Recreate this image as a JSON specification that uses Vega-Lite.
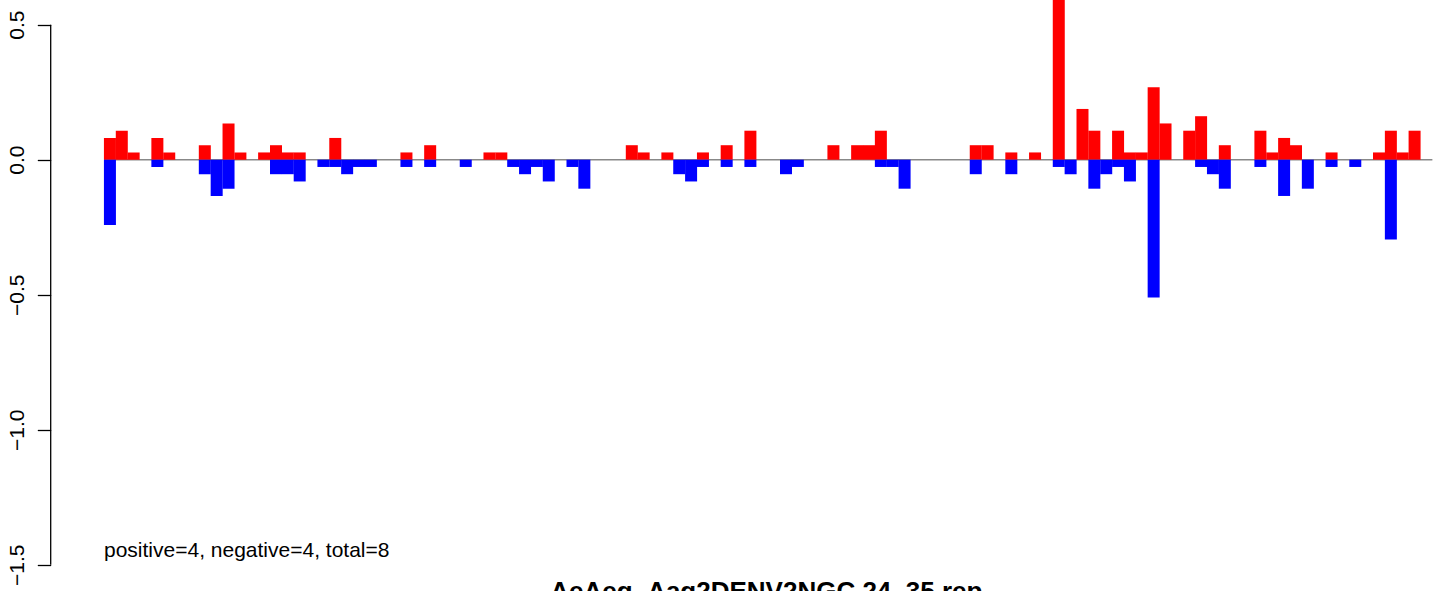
{
  "$schema": "https://vega.github.io/schema/vega-lite/v6.json",
  "width": 1393.3,
  "height": 564.7,
  "autosize": "none",
  "padding": {"left": 50.7, "top": 0, "right": 0, "bottom": 26.3},
  "background": "white",
  "config": {"view": {"stroke": null}},
  "title": {
    "text": "AeAeg_Aag2DENV2NGC.24_35.rep",
    "orient": "bottom",
    "anchor": "middle",
    "frame": "group",
    "dx": 19,
    "offset": -6,
    "font": "Liberation Sans",
    "fontSize": 26,
    "fontWeight": "bold",
    "color": "black"
  },
  "data": {
    "values": [
      {"i":1,"pos":0.0806,"neg":-0.2417},{"i":2,"pos":0.1074,"neg":0},{"i":3,"pos":0.0269,"neg":0},{"i":4,"pos":0,"neg":0},
      {"i":5,"pos":0.0806,"neg":-0.0269},{"i":6,"pos":0.0269,"neg":0},{"i":7,"pos":0,"neg":0},{"i":8,"pos":0,"neg":0},
      {"i":9,"pos":0.0537,"neg":-0.0537},{"i":10,"pos":0,"neg":-0.1343},{"i":11,"pos":0.1343,"neg":-0.1074},{"i":12,"pos":0.0269,"neg":0},
      {"i":13,"pos":0,"neg":0},{"i":14,"pos":0.0269,"neg":0},{"i":15,"pos":0.0537,"neg":-0.0537},{"i":16,"pos":0.0269,"neg":-0.0537},
      {"i":17,"pos":0.0269,"neg":-0.0806},{"i":18,"pos":0,"neg":0},{"i":19,"pos":0,"neg":-0.0269},{"i":20,"pos":0.0806,"neg":-0.0269},
      {"i":21,"pos":0,"neg":-0.0537},{"i":22,"pos":0,"neg":-0.0269},{"i":23,"pos":0,"neg":-0.0269},{"i":24,"pos":0,"neg":0},
      {"i":25,"pos":0,"neg":0},{"i":26,"pos":0.0269,"neg":-0.0269},{"i":27,"pos":0,"neg":0},{"i":28,"pos":0.0537,"neg":-0.0269},
      {"i":29,"pos":0,"neg":0},{"i":30,"pos":0,"neg":0},{"i":31,"pos":0,"neg":-0.0269},{"i":32,"pos":0,"neg":0},
      {"i":33,"pos":0.0269,"neg":0},{"i":34,"pos":0.0269,"neg":0},{"i":35,"pos":0,"neg":-0.0269},{"i":36,"pos":0,"neg":-0.0537},
      {"i":37,"pos":0,"neg":-0.0269},{"i":38,"pos":0,"neg":-0.0806},{"i":39,"pos":0,"neg":0},{"i":40,"pos":0,"neg":-0.0269},
      {"i":41,"pos":0,"neg":-0.1074},{"i":42,"pos":0,"neg":0},{"i":43,"pos":0,"neg":0},{"i":44,"pos":0,"neg":0},
      {"i":45,"pos":0.0537,"neg":0},{"i":46,"pos":0.0269,"neg":0},{"i":47,"pos":0,"neg":0},{"i":48,"pos":0.0269,"neg":0},
      {"i":49,"pos":0,"neg":-0.0537},{"i":50,"pos":0,"neg":-0.0806},{"i":51,"pos":0.0269,"neg":-0.0269},{"i":52,"pos":0,"neg":0},
      {"i":53,"pos":0.0537,"neg":-0.0269},{"i":54,"pos":0,"neg":0},{"i":55,"pos":0.1074,"neg":-0.0269},{"i":56,"pos":0,"neg":0},
      {"i":57,"pos":0,"neg":0},{"i":58,"pos":0,"neg":-0.0537},{"i":59,"pos":0,"neg":-0.0269},{"i":60,"pos":0,"neg":0},
      {"i":61,"pos":0,"neg":0},{"i":62,"pos":0.0537,"neg":0},{"i":63,"pos":0,"neg":0},{"i":64,"pos":0.0537,"neg":0},
      {"i":65,"pos":0.0537,"neg":0},{"i":66,"pos":0.1074,"neg":-0.0269},{"i":67,"pos":0,"neg":-0.0269},{"i":68,"pos":0,"neg":-0.1074},
      {"i":69,"pos":0,"neg":0},{"i":70,"pos":0,"neg":0},{"i":71,"pos":0,"neg":0},{"i":72,"pos":0,"neg":0},
      {"i":73,"pos":0,"neg":0},{"i":74,"pos":0.0537,"neg":-0.0537},{"i":75,"pos":0.0537,"neg":0},{"i":76,"pos":0,"neg":0},
      {"i":77,"pos":0.0269,"neg":-0.0537},{"i":78,"pos":0,"neg":0},{"i":79,"pos":0.0269,"neg":0},{"i":80,"pos":0,"neg":0},
      {"i":81,"pos":0.8,"neg":-0.0269},{"i":82,"pos":0,"neg":-0.0537},{"i":83,"pos":0.188,"neg":0},{"i":84,"pos":0.1074,"neg":-0.1074},
      {"i":85,"pos":0,"neg":-0.0537},{"i":86,"pos":0.1074,"neg":-0.0269},{"i":87,"pos":0.0269,"neg":-0.0806},{"i":88,"pos":0.0269,"neg":0},
      {"i":89,"pos":0.2685,"neg":-0.5102},{"i":90,"pos":0.1343,"neg":0},{"i":91,"pos":0,"neg":0},{"i":92,"pos":0.1074,"neg":0},
      {"i":93,"pos":0.1611,"neg":-0.0269},{"i":94,"pos":0,"neg":-0.0537},{"i":95,"pos":0.0537,"neg":-0.1074},{"i":96,"pos":0,"neg":0},
      {"i":97,"pos":0,"neg":0},{"i":98,"pos":0.1074,"neg":-0.0269},{"i":99,"pos":0.0269,"neg":0},{"i":100,"pos":0.0806,"neg":-0.1343},
      {"i":101,"pos":0.0537,"neg":0},{"i":102,"pos":0,"neg":-0.1074},{"i":103,"pos":0,"neg":0},{"i":104,"pos":0.0269,"neg":-0.0269},
      {"i":105,"pos":0,"neg":0},{"i":106,"pos":0,"neg":-0.0269},{"i":107,"pos":0,"neg":0},{"i":108,"pos":0.0269,"neg":0},
      {"i":109,"pos":0.1074,"neg":-0.2954},{"i":110,"pos":0.0269,"neg":0},{"i":111,"pos":0.1074,"neg":0},{"i":112,"pos":0,"neg":0}
    ]
  },
  "layer": [
    {
      "data": {"values": [{}]},
      "mark": {"type": "rule", "color": "#888888", "strokeWidth": 1.5},
      "encoding": {
        "x": {"datum": 0.5, "type": "quantitative", "scale": {"domain": [-3.994, 113.48], "nice": false, "zero": false, "padding": 0}, "axis": null},
        "x2": {"datum": 112.5},
        "y": {
          "datum": 0,
          "type": "quantitative",
          "scale": {"domain": [-1.5, 0.5915], "nice": false, "zero": false, "padding": 0},
          "axis": {
            "orient": "left",
            "values": [-1.5, -1, -0.5, 0, 0.5],
            "format": ".1f",
            "domain": false,
            "grid": false,
            "title": null,
            "ticks": true,
            "tickSize": 13.4,
            "tickWidth": 1.3,
            "tickColor": "black",
            "labelAngle": -90,
            "labelAlign": "center",
            "labelBaseline": "alphabetic",
            "labelPadding": 14,
            "labelFont": "Liberation Sans",
            "labelFontSize": 21,
            "labelColor": "black",
            "labelOverlap": false,
            "labelFlush": false
          }
        }
      }
    },
    {
      "data": {"values": [{}]},
      "mark": {"type": "rule", "color": "black", "strokeWidth": 1.3},
      "encoding": {
        "x": {"datum": -3.994, "type": "quantitative"},
        "y": {"datum": -1.5, "type": "quantitative"},
        "y2": {"datum": 0.5}
      }
    },
    {
      "mark": {"type": "bar", "color": "#FF0000", "width": 12, "clip": true},
      "encoding": {
        "x": {"field": "i", "type": "quantitative"},
        "y": {"field": "pos", "type": "quantitative"}
      }
    },
    {
      "mark": {"type": "bar", "color": "#0000FF", "width": 12, "clip": true},
      "encoding": {
        "x": {"field": "i", "type": "quantitative"},
        "y": {"field": "neg", "type": "quantitative"}
      }
    },
    {
      "data": {"values": [{}]},
      "mark": {"type": "text", "text": "positive=4, negative=4, total=8", "align": "left", "baseline": "alphabetic", "font": "Liberation Sans", "fontSize": 21, "color": "black"},
      "encoding": {
        "x": {"datum": 0.5, "type": "quantitative"},
        "y": {"datum": -1.47, "type": "quantitative"}
      }
    }
  ]
}
